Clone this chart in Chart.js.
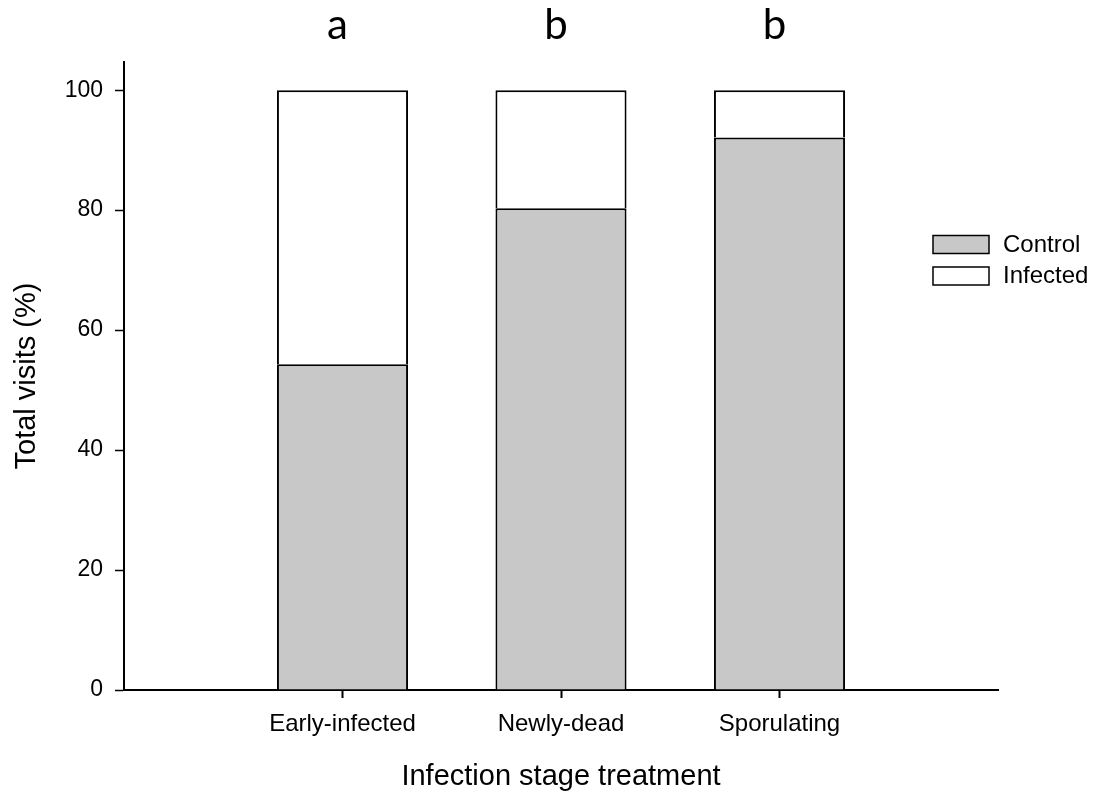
<!DOCTYPE html>
<html>
<head>
<meta charset="utf-8">
<script src="https://cdn.jsdelivr.net/npm/chart.js@4"></script>
<style>
  html, body { margin: 0; padding: 0; background: #fff; }
  #wrap { width: 1099px; height: 796px; }
</style>
</head>
<body>
<div id="wrap"><canvas id="c" width="1099" height="796"></canvas></div>
<script>
// Infection stage treatments shown on the x axis
const categories = ['Early-infected', 'Newly-dead', 'Sporulating'];
// Share of total visits (%) to control and infected items
const controlValues = [54.3, 80.3, 92.1];
const infectedValues = [45.7, 19.7, 7.9];
// Significance groups printed above each bar
const groupLetters = ['a', 'b', 'b'];
// Y axis tick values
const yTicks = [0, 20, 40, 60, 80, 100];

const FONT = "'Liberation Sans', Arial, sans-serif";
Chart.defaults.font.family = FONT;
Chart.defaults.color = '#000';

// Empty slots at both ends leave the outer quarters of the axis blank
const axisLabels = [''].concat(categories, ['']);
const pad = arr => [null].concat(arr, [null]);

// Group letters above the bars
const letterPlugin = {
  id: 'groupLetters',
  afterDatasetsDraw(chart) {
    const ctx = chart.ctx;
    const x = chart.scales.x;
    ctx.save();
    ctx.fillStyle = '#000';
    ctx.font = "42px Lato, 'Open Sans', sans-serif";
    ctx.textAlign = 'center';
    ctx.textBaseline = 'alphabetic';
    groupLetters.forEach((t, i) => {
      ctx.fillText(t, x.getPixelForValue(i + 1) - 5, 39);
    });
    ctx.restore();
  }
};

// Legend boxes drawn at the right edge of the plot
const legendPlugin = {
  id: 'sideLegend',
  afterDraw(chart) {
    const ctx = chart.ctx;
    ctx.save();
    ctx.font = '24px ' + FONT;
    ctx.textAlign = 'left';
    ctx.textBaseline = 'middle';
    chart.data.datasets.forEach((ds, i) => {
      const top = 235.5 + i * 31.5;
      ctx.fillStyle = ds.backgroundColor;
      ctx.fillRect(933, top, 56, 18);
      ctx.lineWidth = 1.5;
      ctx.strokeStyle = '#000';
      ctx.strokeRect(933, top, 56, 18);
      ctx.fillStyle = '#000';
      ctx.fillText(ds.label, 1003, top + 9.5);
    });
    ctx.restore();
  }
};

new Chart(document.getElementById('c'), {
  type: 'bar',
  data: {
    labels: axisLabels,
    datasets: [
      {
        label: 'Control',
        data: pad(controlValues),
        backgroundColor: '#c8c8c8',
        borderColor: '#000',
        borderWidth: 2,
        borderSkipped: 'start'
      },
      {
        label: 'Infected',
        data: pad(infectedValues),
        backgroundColor: '#ffffff',
        borderColor: '#000',
        borderWidth: 2,
        borderSkipped: 'start'
      }
    ]
  },
  options: {
    responsive: false,
    animation: false,
    events: [],
    layout: { padding: { top: 62, right: 101, left: 0, bottom: 0 } },
    datasets: { bar: { barPercentage: 0.6, categoryPercentage: 1.0 } },
    plugins: {
      legend: { display: false },
      tooltip: { enabled: false },
      title: { display: false }
    },
    scales: {
      x: {
        stacked: true,
        offset: false,
        afterFit(s) { s.height = 106; },
        border: { display: true, color: '#000', width: 2 },
        grid: {
          display: true,
          offset: false,
          drawOnChartArea: false,
          drawTicks: true,
          tickLength: 8,
          tickWidth: 2,
          tickColor: c => (c.tick && c.tick.label) ? '#000' : 'rgba(0,0,0,0)'
        },
        ticks: {
          autoSkip: false,
          maxRotation: 0,
          padding: 12,
          font: { size: 24 },
          color: '#000'
        },
        title: {
          display: true,
          text: 'Infection stage treatment',
          font: { size: 29 },
          color: '#000',
          padding: { top: 0, bottom: 2 }
        }
      },
      y: {
        stacked: true,
        min: 0,
        max: 104.7,
        afterFit(s) { s.width = 124; },
        afterBuildTicks(s) { s.ticks = yTicks.map(v => ({ value: v })); },
        border: { display: true, color: '#000', width: 2 },
        grid: {
          display: true,
          drawOnChartArea: false,
          drawTicks: true,
          tickLength: 9,
          tickWidth: 1.5,
          tickColor: '#000'
        },
        ticks: {
          padding: 12,
          font: { size: 23 },
          color: '#000'
        },
        title: {
          display: true,
          text: 'Total visits (%)',
          font: { size: 29 },
          color: '#000',
          padding: { top: 10, bottom: 0 }
        }
      }
    }
  },
  plugins: [letterPlugin, legendPlugin]
});
</script>
</body>
</html>
